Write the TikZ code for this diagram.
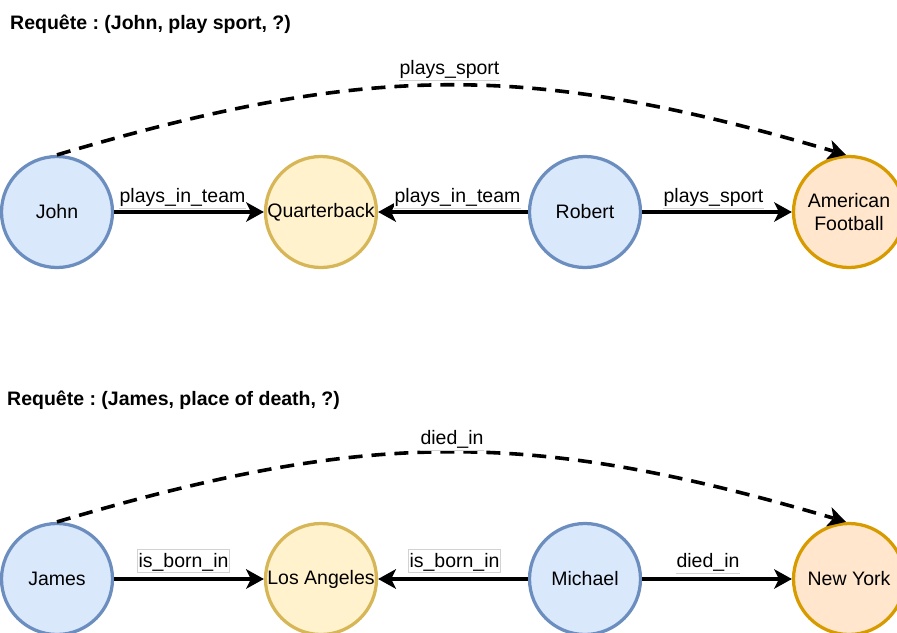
\documentclass[tikz,border=0pt]{standalone}
\usepackage{fontspec}
\setmainfont{Liberation Sans}
\usetikzlibrary{arrows.meta}
\frenchspacing

\definecolor{personFill}{HTML}{DAE8FC}
\definecolor{personLine}{HTML}{6C8EBF}
\definecolor{hubFill}{HTML}{FFF2CC}
\definecolor{hubLine}{HTML}{D6B656}
\definecolor{answerFill}{HTML}{FFE6CC}
\definecolor{answerLine}{HTML}{D79B00}

\begin{document}
\begin{tikzpicture}[x=1pt, y=-1pt,
  every node/.style={font=\fontsize{19.5}{23}\selectfont},
  entity/.style={circle, minimum size=111pt, inner sep=0pt, line width=3.25pt, align=center},
  person/.style={entity, draw=personLine, fill=personFill},
  hub/.style={entity, draw=hubLine, fill=hubFill},
  answer/.style={entity, draw=answerLine, fill=answerFill},
  rel/.style={line width=3.6pt, -{Stealth[length=18pt, width=20pt, inset=5pt, line width=0pt]}},
  guess/.style={rel, dash pattern=on 14pt off 9pt},
  lbl/.style={fill=white, inner sep=0.8pt, text height=17.5pt, text depth=4.2pt},
  boxed/.style={lbl, draw=gray!35, line width=0.6pt},
  rule/.style={draw=gray!35, line width=0.6pt},
  query/.style={anchor=base west, inner sep=0pt, font={\fontsize{19.5}{23}\selectfont\bfseries}}
]
\useasboundingbox (0,0) rectangle (897,632);

% ---- first query ----
\node[query] (q1) at (10,29) {Requête : (John, play sport, ?)};

\node[person] (john)   at (57,212)  {John};
\node[hub]    (qb)     at (321,212) {Quarterback};
\node[person] (robert) at (585,212) {Robert};
\node[answer] (af)     at (849,212) {American\\Football};

\draw[rel] (john) -- (qb);
\draw[rel] (robert) -- (qb);
\draw[rel] (robert) -- (af);
\draw[guess] (john.north) .. controls (370,62) and (530,62) .. ([xshift=-3pt]af.north);

\node[lbl, anchor=south] (l1) at (182.5,208) {plays\_in\_team};
\node[lbl, anchor=south] (l2) at (457.5,208) {plays\_in\_team};
\node[lbl, anchor=south] (l3) at (713.5,208) {plays\_sport};
\node[lbl, anchor=south] (l4) at (449.5,80)  {plays\_sport};
\draw[rule] (l1.south west) -- (l1.south east);
\draw[rule] (l2.south west) -- (l2.south east);
\draw[rule] (l3.south west) -- (l3.south east);
\draw[rule] (l4.south west) -- (l4.south east);

% ---- second query ----
\node[query] (q2) at (7,405) {Requête : (James, place of death, ?)};

\node[person] (james)   at (57,579)  {James};
\node[hub]    (la)      at (321,579) {Los Angeles};
\node[person] (michael) at (585,579) {Michael};
\node[answer] (ny)      at (849,579) {New York};

\draw[rel] (james) -- (la);
\draw[rel] (michael) -- (la);
\draw[rel] (michael) -- (ny);
\draw[guess] (james.north) .. controls (370,429) and (530,429) .. ([xshift=-3pt]ny.north);

\node[boxed, anchor=south] (l5) at (183.5,573) {is\_born\_in};
\node[boxed, anchor=south] (l6) at (454.5,573) {is\_born\_in};
\node[lbl, anchor=south]   (l7) at (708,573)   {died\_in};
\node[lbl, anchor=south]   (l8) at (452,450)   {died\_in};
\draw[rule] (l7.south west) -- (l7.south east);
\draw[rule] (l8.south west) -- (l8.south east);
\end{tikzpicture}
\end{document}
